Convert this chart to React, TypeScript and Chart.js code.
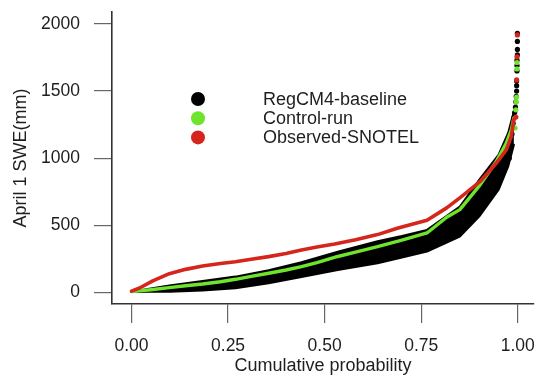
import React, { useEffect, useRef } from "react";
import { Chart, registerables } from "chart.js";

Chart.register(...registerables);

// ---------- data ----------
const xTicks = [0, 0.25, 0.5, 0.75, 1];
const yTicks = [0, 500, 1000, 1500, 2000];
const seriesNames = ["RegCM4-baseline", "Control-run", "Observed-SNOTEL"];
const seriesColors = ["#000000", "#6fe42c", "#d4261c"];

// Observed-SNOTEL curve
const obsP = [0, 0.021, 0.055, 0.098, 0.14, 0.184, 0.23, 0.269, 0.31, 0.355, 0.4, 0.44, 0.48, 0.526, 0.58, 0.637, 0.688, 0.765, 0.816, 0.85, 0.902, 0.944, 0.97, 0.983, 0.99];
const obsV = [10, 33, 86, 140, 172, 197, 215, 229, 247, 267, 290, 317, 338, 361, 393, 431, 478, 538, 630, 705, 825, 962, 1061, 1160, 1290];
const obsTailP = [0.995, 0.997, 0.998, 0.999];
const obsTailV = [1307, 1583, 1754, 1918];

// Control-run curve
const ctlP = [0, 0.05, 0.098, 0.14, 0.184, 0.23, 0.269, 0.31, 0.355, 0.4, 0.44, 0.48, 0.534, 0.58, 0.637, 0.7, 0.765, 0.816, 0.85, 0.902, 0.944, 0.97, 0.983, 0.99];
const ctlV = [6, 20, 36, 50, 63, 80, 98, 120, 143, 167, 192, 222, 268, 300, 341, 390, 443, 560, 617, 800, 974, 1111, 1210, 1300];
const ctlTailP = [0.993, 0.995, 0.996, 0.997, 0.998, 0.998];
const ctlTailV = [1225, 1360, 1419, 1456, 1665, 1713];

// RegCM4-baseline ensemble envelope
const baseP = [0, 0.05, 0.098, 0.184, 0.269, 0.355, 0.44, 0.534, 0.637, 0.7, 0.765, 0.85, 0.9, 0.95, 0.975, 0.99];
const baseUpperV = [6, 30, 51, 85, 118, 165, 225, 304, 382, 420, 466, 639, 838, 1024, 1188, 1350];
const baseLowerV = [4, 5, 6, 15, 31, 68, 115, 168, 217, 260, 304, 416, 565, 763, 937, 1100];
const baseTailP = [0.978, 0.982, 0.985, 0.988, 0.99, 0.992, 0.994, 0.995, 0.996, 0.997, 0.997, 0.997, 0.998, 0.998, 0.998, 0.999, 0.999, 0.999, 0.999];
const baseTailV = [1000, 1100, 1180, 1260, 1300, 1340, 1380, 1420, 1460, 1500, 1540, 1575, 1650, 1690, 1730, 1770, 1810, 1870, 1930];

// ---------- styling ----------
const FAMILY = "'Liberation Sans', Arial, Helvetica, sans-serif";
const TEXT = "#1e1e1e";
const font = { family: FAMILY, size: 17.5 };
const titleFont = { family: FAMILY, size: 18 };

const pts = (p: number[], v: number[]) => p.map((x, i) => ({ x, y: v[i] }));

const legendPlugin = {
  id: "insetLegend",
  afterDatasetsDraw(chart: any) {
    const { ctx, chartArea } = chart;
    ctx.save();
    seriesNames.forEach((name, i) => {
      const y = chartArea.top + 87 + i * 19.2;
      ctx.beginPath();
      ctx.arc(chartArea.left + 86, y, 7, 0, Math.PI * 2);
      ctx.fillStyle = seriesColors[i];
      ctx.fill();
      ctx.fillStyle = TEXT;
      ctx.font = `18px ${FAMILY}`;
      ctx.textBaseline = "middle";
      ctx.textAlign = "left";
      ctx.fillText(name, chartArea.left + 151, y + 1);
    });
    ctx.restore();
  },
};

export default function App() {
  const ref = useRef<HTMLCanvasElement | null>(null);

  useEffect(() => {
    if (!ref.current) return;
    const [black, green, red] = seriesColors;
    const lineDs = (data: any, color: string, width: number, extra: any = {}) => ({
      data,
      borderColor: color,
      backgroundColor: color,
      borderWidth: width,
      pointRadius: 0,
      showLine: true,
      tension: 0,
      fill: false,
      borderCapStyle: "round",
      borderJoinStyle: "round",
      ...extra,
    });
    const tailDs = (data: any, color: string) => ({
      data,
      borderColor: color,
      backgroundColor: color,
      borderWidth: 0,
      pointRadius: 2.6,
      showLine: false,
      fill: false,
    });

    const chart = new Chart(ref.current, {
      type: "line",
      data: {
        datasets: [
          { label: seriesNames[2], ...lineDs(pts(obsP, obsV), red, 3.6) },
          tailDs(pts(obsTailP, obsTailV), red),
          { label: seriesNames[1], ...lineDs(pts(ctlP, ctlV), green, 3.4) },
          tailDs(pts(ctlTailP, ctlTailV), green),
          { label: seriesNames[0], ...lineDs(pts(baseP, baseUpperV), black, 2, { fill: "+1" }) },
          lineDs(pts(baseP, baseLowerV), black, 2),
          tailDs(pts(baseTailP, baseTailV), black),
        ] as any,
      },
      options: {
        animation: false,
        responsive: false,
        events: [],
        layout: { padding: { top: 12, right: 0, bottom: 0, left: 0 } },
        plugins: { legend: { display: false }, tooltip: { enabled: false } },
        scales: {
          x: {
            type: "linear",
            min: -0.0505,
            max: 1.042,
            afterBuildTicks: (s: any) => {
              s.ticks = xTicks.map((value) => ({ value }));
            },
            afterFit: (s: any) => {
              s.height = 78;
              s.paddingLeft = 0;
              s.paddingRight = 0;
              s.paddingTop = 0;
              s.paddingBottom = 0;
            },
            ticks: {
              callback: (v: any) => Number(v).toFixed(2),
              font,
              color: TEXT,
              padding: 13,
              maxRotation: 0,
              autoSkip: false,
            },
            grid: { drawOnChartArea: false, drawTicks: true, tickLength: 19, color: "#666", lineWidth: 1.2 },
            border: { display: true, color: "#333", width: 1.6 },
            title: {
              display: true,
              text: "Cumulative probability",
              font: titleFont,
              color: TEXT,
              padding: { top: 0, bottom: 5 },
            },
          },
          y: {
            type: "linear",
            min: -86,
            max: 2089,
            afterBuildTicks: (s: any) => {
              s.ticks = yTicks.map((value) => ({ value }));
            },
            afterFit: (s: any) => {
              s.width = 112;
              s.paddingLeft = 0;
              s.paddingRight = 0;
              s.paddingTop = 0;
              s.paddingBottom = 0;
            },
            ticks: {
              callback: (v: any) => String(v),
              font,
              color: TEXT,
              padding: 14,
              autoSkip: false,
            },
            grid: { drawOnChartArea: false, drawTicks: true, tickLength: 18, color: "#666", lineWidth: 1.2 },
            border: { display: true, color: "#333", width: 1.6 },
            title: {
              display: true,
              text: "April 1 SWE(mm)",
              font: titleFont,
              color: TEXT,
              padding: { top: 10, bottom: 0 },
            },
          },
        },
      } as any,
      plugins: [legendPlugin],
    });
    return () => chart.destroy();
  }, []);

  return (
    <div style={{ position: "fixed", left: 0, top: 0, width: 538, height: 382, background: "#fff" }}>
      <canvas ref={ref} width={538} height={382} style={{ display: "block" }} />
    </div>
  );
}
